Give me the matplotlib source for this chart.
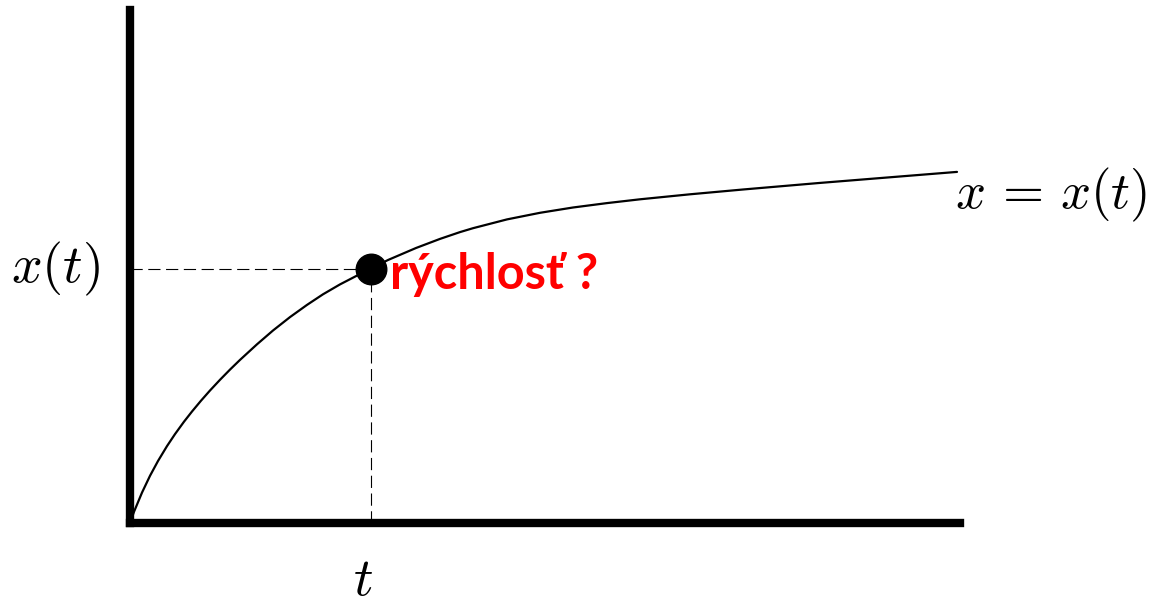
import matplotlib
matplotlib.use("Agg")
import matplotlib.pyplot as plt

plt.rcParams['mathtext.fontset'] = 'cm'

# curve x = x(t) (arbitrary units)
t_vals = [0, 4, 12, 20, 28, 37, 45, 54, 62, 71, 80, 90, 100, 110, 127, 143,
          160, 177, 193, 210, 227, 241, 258, 286, 310, 330, 343, 377, 410,
          443, 477, 510, 560, 613, 689, 766, 827]
x_vals = [0, 11.2, 30.4, 47.2, 62, 76.9, 88.9, 101.3, 111.5, 122.3, 132.5,
          143.2, 153.4, 163.1, 178.7, 192.5, 205.9, 218.1, 228.7, 238.6,
          247.4, 254.5, 263, 275, 284.1, 290.9, 294.8, 303.6, 310.2, 315.5,
          319.9, 323.7, 328.7, 333.5, 340, 346.2, 351.1]

# the marked point
t0 = 241
x0 = 254.5

label_point = "rýchlosť ?"
label_curve = r"$x\,=\,x(t)$"
label_x = r"$x(t)$"
label_t = r"$t$"

fig = plt.figure(figsize=(11.5, 6.07), dpi=100)
ax = fig.add_axes([130 / 1150, (607 - 523) / 607, 830 / 1150, 513 / 607])

ax.plot(t_vals, x_vals, color='black', lw=1.6, solid_joinstyle='round',
        solid_capstyle='round', zorder=3)

# dashed guide lines
ax.plot([0, t0], [x0, x0], color='black', lw=0.8, dashes=(11, 5), zorder=2)
ax.plot([t0, t0], [0, x0], color='black', lw=0.8, dashes=(11, 5), zorder=2)

ax.plot([t0], [x0], 'o', color='black', ms=22, zorder=4)

ax.set_xlim(0, 830)
ax.set_ylim(0, 513)
for s in ['top', 'right']:
    ax.spines[s].set_visible(False)
for s in ['left', 'bottom']:
    ax.spines[s].set_linewidth(6)
    ax.spines[s].set_capstyle('projecting')
    ax.spines[s].set_zorder(5)
ax.set_xticks([])
ax.set_yticks([])

ax.text(-30, x0, label_x, fontsize=39, ha='right', va='center', clip_on=False)
ax.text(t0 - 8, -57, label_t, fontsize=39, ha='center', va='center', clip_on=False)
ax.text(825, 328, label_curve, fontsize=38, ha='left', va='center', clip_on=False)
ax.text(t0 + 19, 234, label_point, fontsize=35, fontweight='bold', color='#ff0000',
        family=['Lato', 'DejaVu Sans'], ha='left', va='baseline', zorder=6)

fig.savefig("out.png", dpi=100)
